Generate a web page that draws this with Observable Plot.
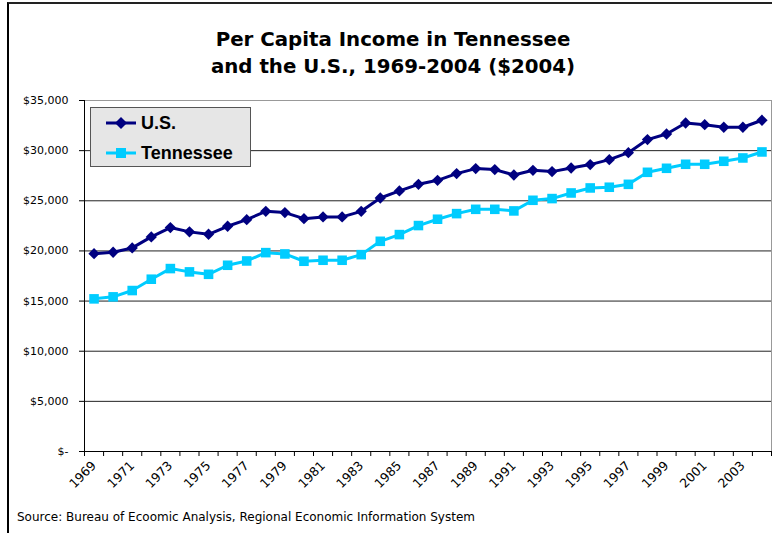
<!DOCTYPE html>
<html>
<head>
<meta charset="utf-8">
<script src="https://cdn.jsdelivr.net/npm/d3@7"></script>
<script src="https://cdn.jsdelivr.net/npm/@observablehq/plot@0.6"></script>
<style>
  html, body { margin: 0; padding: 0; background: #fff; }
  #page { position: relative; width: 772px; height: 533px; overflow: hidden; font-family: "DejaVu Sans", sans-serif; }
  #frame { position: absolute; left: 7px; top: 2px; width: 800px; height: 600px; border-top: 2px solid #222; border-left: 2px solid #000; pointer-events: none; }
  #title { height: 85px; box-sizing: border-box; padding-top: 26px; padding-left: 14px; width: 772px; text-align: center; font-family: "DejaVu Sans", sans-serif; font-weight: bold; font-size: 19.8px; line-height: 27px; color: #000; }
  #chart svg { display: block; }
  #caption { padding-left: 17px; padding-top: 4px; font-family: "DejaVu Sans", sans-serif; font-size: 12px; line-height: 16px; color: #000; }
  #legend { position: absolute; left: 90px; top: 107px; width: 159px; height: 58px; background: #e6e6e6; border: 1px solid #555; font-family: "Liberation Sans", Arial, sans-serif; font-weight: bold; font-size: 18px; }
  .lg { position: absolute; left: 0; height: 30px; display: flex; align-items: center; }
  .lg svg { margin-left: 15px; margin-right: 5px; }
</style>
</head>
<body>
<div id="page">
  <div id="title">Per Capita Income in Tennessee<br>and the U.S., 1969-2004 ($2004)</div>
  <div id="chart"></div>
  <div id="caption"></div>
  <div id="legend"></div>
  <div id="frame"></div>
</div>
<script>
const years = [1969,1970,1971,1972,1973,1974,1975,1976,1977,1978,1979,1980,1981,1982,1983,1984,1985,1986,1987,1988,1989,1990,1991,1992,1993,1994,1995,1996,1997,1998,1999,2000,2001,2002,2003,2004];
const usIncome = [19730,19870,20300,21400,22330,21900,21660,22460,23120,23950,23820,23220,23390,23390,23950,25280,25980,26640,27040,27710,28210,28110,27570,28040,27910,28270,28610,29100,29800,31100,31660,32760,32590,32330,32330,33030];
const tnIncome = [15220,15420,16050,17180,18240,17910,17670,18570,19000,19830,19700,18970,19070,19070,19630,20960,21630,22530,23160,23720,24150,24150,23990,25050,25220,25780,26280,26350,26640,27840,28240,28640,28640,28940,29270,29870];
const seriesNames = ["U.S.", "Tennessee"];
const seriesColors = ["#000080", "#00ccff"];
const yTicks = [0, 5000, 10000, 15000, 20000, 25000, 30000, 35000];
const xLabelYears = [1969,1971,1973,1975,1977,1979,1981,1983,1985,1987,1989,1991,1993,1995,1997,1999,2001,2003];
const sourceText = "Source: Bureau of Ecoomic Analysis, Regional Economic Information System";

const us = years.map((yr, i) => ({year: yr, value: usIncome[i]}));
const tn = years.map((yr, i) => ({year: yr, value: tnIncome[i]}));
const bounds = years.map(y => y - 0.5).concat([years[years.length - 1] + 0.5]);
const xMin = bounds[0], xMax = bounds[bounds.length - 1];
const yMax = yTicks[yTicks.length - 1];
const fmtY = v => v === 0 ? "$-" : "$" + d3.format(",")(v);

const chart = Plot.plot({
  width: 772,
  height: 420,
  marginLeft: 84,
  marginRight: 1,
  marginTop: 15,
  marginBottom: 54,
  style: {fontFamily: "DejaVu Sans, sans-serif", fontSize: "11px", color: "#000", background: "transparent", overflow: "visible"},
  x: {type: "linear", domain: [xMin, xMax]},
  y: {domain: [0, yMax]},
  marks: [
    Plot.gridY(yTicks.filter(v => v > 0 && v < yMax), {stroke: "#222", strokeOpacity: 1, strokeWidth: 1}),
    Plot.ruleY([yMax], {stroke: "#999"}),
    Plot.ruleX([xMax], {stroke: "#999"}),
    Plot.ruleX([xMin], {stroke: "#000"}),
    Plot.ruleY([0], {stroke: "#000"}),
    Plot.axisY({ticks: yTicks, tickFormat: fmtY, tickSize: 5, tickPadding: 11, label: null, stroke: "#000"}),
    Plot.axisX({ticks: bounds, tickFormat: () => "", tickSize: 5, label: null, stroke: "#000"}),
    Plot.axisX({ticks: xLabelYears, tickFormat: d => String(d), tickSize: 0, tickPadding: 12, tickRotate: -45, label: null, fontSize: 12.5}),
    Plot.line(us, {x: "year", y: "value", stroke: seriesColors[0], strokeWidth: 3}),
    Plot.line(tn, {x: "year", y: "value", stroke: seriesColors[1], strokeWidth: 3}),
    Plot.dot(us, {x: "year", y: "value", symbol: "diamond2", r: 5.1, fill: seriesColors[0], stroke: "none"}),
    Plot.dot(tn, {x: "year", y: "value", symbol: "square", r: 5.4, fill: seriesColors[1], stroke: "none"})
  ]
});
document.getElementById("chart").appendChild(chart);
document.getElementById("caption").textContent = sourceText;

// legend
const legend = document.getElementById("legend");
seriesNames.forEach((name, i) => {
  const row = document.createElement("div");
  row.className = "lg";
  row.style.top = (i * 30) + "px";
  const ns = "http://www.w3.org/2000/svg";
  const s = document.createElementNS(ns, "svg");
  s.setAttribute("width", 30); s.setAttribute("height", 14);
  const l = document.createElementNS(ns, "line");
  l.setAttribute("x1", 0); l.setAttribute("x2", 30); l.setAttribute("y1", 7); l.setAttribute("y2", 7);
  l.setAttribute("stroke", seriesColors[i]); l.setAttribute("stroke-width", 3);
  s.appendChild(l);
  const m = document.createElementNS(ns, "path");
  m.setAttribute("d", i === 0 ? "M15,1 L21,7 L15,13 L9,7 Z" : "M10,2 H20 V12 H10 Z");
  m.setAttribute("fill", seriesColors[i]);
  s.appendChild(m);
  row.appendChild(s);
  const t = document.createElement("span");
  t.textContent = name;
  row.appendChild(t);
  legend.appendChild(row);
});
</script>
</body>
</html>
